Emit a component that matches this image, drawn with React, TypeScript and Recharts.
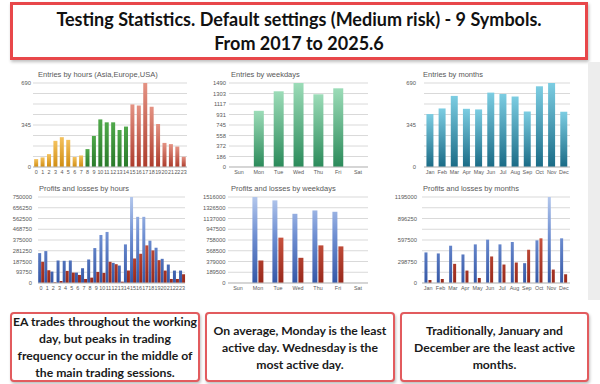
import React from 'react';
import { BarChart, Bar, XAxis, YAxis, CartesianGrid, Cell } from 'recharts';

// categories
const hours = ['0', '1', '2', '3', '4', '5', '6', '7', '8', '9', '10', '11', '12', '13', '14', '15', '16', '17', '18', '19', '20', '21', '22', '23'];
const weekdays = ['Sun', 'Mon', 'Tue', 'Wed', 'Thu', 'Fri', 'Sat'];
const months = ['Jan', 'Feb', 'Mar', 'Apr', 'May', 'Jun', 'Jul', 'Aug', 'Sep', 'Oct', 'Nov', 'Dec'];

// entries (number of trades)
const hourEntries = [65, 79, 106, 215, 245, 223, 82, 95, 147, 255, 391, 367, 367, 304, 332, 514, 505, 690, 495, 353, 198, 188, 168, 84];
const weekdayEntries = [0, 997, 1343, 1490, 1290, 1396, 0];
const monthEntries = [435, 481, 584, 478, 473, 611, 600, 579, 456, 663, 690, 454];

// profits / losses
const hourProfits = [260700, 278300, 99600, 196300, 193400, 196300, 90800, 128900, 205100, 304700, 418900, 445300, 175800, 152300, 336900, 750000, 577100, 577100, 369100, 307600, 210900, 161100, 108400, 108400];
const hourLosses = [184600, 111300, 5900, 17600, 105500, 90800, 70300, 35200, 46900, 96700, 87900, 184600, 164100, 11700, 108400, 213900, 254900, 328100, 284200, 199200, 108400, 35200, 35200, 76200];
const weekdayProfits = [0, 1516000, 1456800, 1219900, 1279100, 1255400, 0];
const weekdayLosses = [0, 396800, 799500, 444100, 663300, 645500, 0];
const monthProfits = [424800, 410800, 518100, 396800, 536800, 602200, 536800, 569500, 275400, 592800, 1195000, 620800];
const monthLosses = [42000, 56000, 266100, 172700, 70000, 368800, 256700, 284700, 462100, 620800, 186700, 121400];

// axis ticks (grid lines) and the ones that carry a label
const hourEntryTicks = [0, 86.25, 172.5, 258.75, 345, 431.25, 517.5, 603.75, 690];
const hourEntryLabels = [0, 345, 690];
const weekdayEntryTicks = [0, 186, 372, 558, 745, 931, 1117, 1303, 1490];
const monthEntryTicks = [0, 86.25, 172.5, 258.75, 345, 431.25, 517.5, 603.75, 690];
const monthEntryLabels = [0, 345, 690];
const hourPnlTicks = [0, 93750, 187500, 281250, 375000, 468750, 562500, 656250, 750000];
const weekdayPnlTicks = [0, 189500, 379000, 568500, 758000, 947500, 1137000, 1326500, 1516000];
const monthPnlTicks = [0, 149375, 298750, 448125, 597500, 746875, 896250, 1045625, 1195000];
const monthPnlLabels = [0, 298750, 597500, 896250, 1195000];

const hourEntryData = hours.map((name, i) => ({ name, entries: hourEntries[i] }));
const weekdayEntryData = weekdays.map((name, i) => ({ name, entries: weekdayEntries[i] }));
const monthEntryData = months.map((name, i) => ({ name, entries: monthEntries[i] }));
const hourPnlData = hours.map((name, i) => ({ name, profit: hourProfits[i], loss: hourLosses[i] }));
const weekdayPnlData = weekdays.map((name, i) => ({ name, profit: weekdayProfits[i], loss: weekdayLosses[i] }));
const monthPnlData = months.map((name, i) => ({ name, profit: monthProfits[i], loss: monthLosses[i] }));

// Asia 0-7, Europe 8-14, USA 15-23
const sessionFill = (i: number) => (i < 8 ? 'url(#gAsia)' : i < 15 ? 'url(#gEurope)' : 'url(#gUsa)');

const AXIS_FONT = '"Liberation Sans", Arial, sans-serif';
const LABEL = '#595959';

interface BarDef {
  key: string;
  fill: string;
  cellFill?: (i: number) => string;
}

interface PanelProps {
  left: number;
  top: number;
  title: string;
  titleX: number;
  data: Record<string, string | number>[];
  bars: BarDef[];
  ticks: number[];
  labels?: number[];
  yWidth: number;
  yGap: number;
  right: number;
  marginTop: number;
  marginBottom: number;
  categoryGap: string;
  barGap?: number;
}

function Panel(p: PanelProps) {
  const max = p.ticks[p.ticks.length - 1];
  return (
    <div style={{ position: 'absolute', left: p.left, top: p.top, width: 200, height: 120 }}>
      <div style={{
        position: 'absolute', left: p.titleX, top: p.marginTop - 13, fontFamily: AXIS_FONT,
        fontSize: 7.5, lineHeight: '9px', color: LABEL, whiteSpace: 'nowrap',
      }}>{p.title}</div>
      <BarChart width={200} height={120} data={p.data}
        margin={{ top: p.marginTop, right: p.right, left: 0, bottom: p.marginBottom }}
        barCategoryGap={p.categoryGap} barGap={p.barGap ?? 1}>
        <CartesianGrid stroke="#d9d9d9" vertical={false} />
        <XAxis dataKey="name" interval={0} height={12} tickLine={false} tickSize={0} tickMargin={3}
          axisLine={{ stroke: '#bfbfbf' }}
          tick={{ fontSize: 5.4, fill: LABEL, fontFamily: AXIS_FONT }} />
        <YAxis type="number" domain={[0, max]} ticks={p.ticks} interval={0} width={p.yWidth}
          axisLine={false} tickLine={false} tickSize={0} tickMargin={p.yGap}
          tickFormatter={(v: number) => (!p.labels || p.labels.includes(v) ? String(v) : '')}
          tick={{ fontSize: 5.8, fill: LABEL, fontFamily: AXIS_FONT }} />
        {p.bars.map(b => (
          <Bar key={b.key} dataKey={b.key} fill={b.fill} isAnimationActive={false}>
            {b.cellFill && p.data.map((_, i) => <Cell key={i} fill={b.cellFill!(i)} />)}
          </Bar>
        ))}
      </BarChart>
    </div>
  );
}

const boxStyle: React.CSSProperties = {
  position: 'absolute', top: 312, height: 70, boxSizing: 'border-box',
  border: '2px solid #e25b5e', borderRadius: 4, background: '#fff',
  boxShadow: '1px 2px 3px rgba(0,0,0,0.25)',
  display: 'flex', alignItems: 'center', justifyContent: 'center', textAlign: 'center',
  fontFamily: 'Lato, "Open Sans", sans-serif', fontWeight: 700, fontSize: 12.2, lineHeight: '17px', color: '#1a1a1a',
};

export default function App() {
  return (
    <div style={{ position: 'absolute', left: 0, top: 0, width: 600, height: 384, background: '#fff', overflow: 'hidden' }}>
      <svg width={0} height={0} style={{ position: 'absolute' }}>
        <defs>
          <linearGradient id="gAsia" x1="0" y1="0" x2="0" y2="1">
            <stop offset="0%" stopColor="#f4c25e" />
            <stop offset="100%" stopColor="#d08d12" />
          </linearGradient>
          <linearGradient id="gEurope" x1="0" y1="0" x2="0" y2="1">
            <stop offset="0%" stopColor="#4fa84a" />
            <stop offset="100%" stopColor="#2a7a2a" />
          </linearGradient>
          <linearGradient id="gUsa" x1="0" y1="0" x2="0" y2="1">
            <stop offset="0%" stopColor="#e49283" />
            <stop offset="100%" stopColor="#ad3c2c" />
          </linearGradient>
          <linearGradient id="gWeek" x1="0" y1="0" x2="0" y2="1">
            <stop offset="0%" stopColor="#9cdcb8" />
            <stop offset="100%" stopColor="#2b8a5a" />
          </linearGradient>
          <linearGradient id="gMonth" x1="0" y1="0" x2="0" y2="1">
            <stop offset="0%" stopColor="#7ccde2" />
            <stop offset="100%" stopColor="#1a6b86" />
          </linearGradient>
          {/* lower row shares the same plot band, so the shade follows the bar height */}
          <linearGradient id="gProfit" gradientUnits="userSpaceOnUse" x1="0" y1="17" x2="0" y2="103">
            <stop offset="0%" stopColor="#b3c7ec" />
            <stop offset="45%" stopColor="#6f8fd2" />
            <stop offset="100%" stopColor="#3457a6" />
          </linearGradient>
          <linearGradient id="gLoss" gradientUnits="userSpaceOnUse" x1="0" y1="17" x2="0" y2="103">
            <stop offset="0%" stopColor="#e08a7a" />
            <stop offset="45%" stopColor="#c9533f" />
            <stop offset="100%" stopColor="#98291b" />
          </linearGradient>
        </defs>
      </svg>

      <div style={{
        position: 'absolute', left: 10, top: 2, width: 578, height: 58, boxSizing: 'border-box',
        border: '3px solid #e8474a', background: '#fff', boxShadow: '1px 2px 3px rgba(0,0,0,0.25)',
        display: 'flex', alignItems: 'center', justifyContent: 'center', textAlign: 'center',
        fontFamily: 'Lato, "Open Sans", sans-serif', fontWeight: 700, fontSize: 18, lineHeight: '24px', color: '#111',
      }}>
        <div>Testing Statistics. Default settings (Medium risk) - 9 Symbols.<br />From 2017 to 2025.6</div>
      </div>

      <div style={{ position: 'absolute', left: 588, top: 62, width: 12, height: 238, background: '#ededed' }} />

      <Panel left={0} top={60} title="Entries by hours (Asia,Europe,USA)" titleX={38} data={hourEntryData}
        bars={[{ key: 'entries', fill: '#e0a030', cellFill: sessionFill }]}
        ticks={hourEntryTicks} labels={hourEntryLabels} yWidth={33} yGap={2} right={13}
        marginTop={23} marginBottom={1} categoryGap="18%" />
      <Panel left={200} top={60} title="Entries by weekdays" titleX={31} data={weekdayEntryData}
        bars={[{ key: 'entries', fill: 'url(#gWeek)' }]}
        ticks={weekdayEntryTicks} yWidth={29} yGap={3} right={32}
        marginTop={23} marginBottom={1} categoryGap="25%" />
      <Panel left={400} top={60} title="Entries by months" titleX={23} data={monthEntryData}
        bars={[{ key: 'entries', fill: 'url(#gMonth)' }]}
        ticks={monthEntryTicks} labels={monthEntryLabels} yWidth={24} yGap={8} right={30}
        marginTop={23} marginBottom={1} categoryGap="20%" />

      <Panel left={0} top={180} title="Profits and losses by hours" titleX={39} data={hourPnlData}
        bars={[{ key: 'profit', fill: 'url(#gProfit)' }, { key: 'loss', fill: 'url(#gLoss)' }]}
        ticks={hourPnlTicks} yWidth={38} yGap={6} right={15}
        marginTop={17} marginBottom={5} categoryGap="3%" barGap={0} />
      <Panel left={200} top={180} title="Profits and losses by weekdays" titleX={31} data={weekdayPnlData}
        bars={[{ key: 'profit', fill: 'url(#gProfit)' }, { key: 'loss', fill: 'url(#gLoss)' }]}
        ticks={weekdayPnlTicks} yWidth={28} yGap={2.5} right={32}
        marginTop={17} marginBottom={5} categoryGap="22%" barGap={1} />
      <Panel left={390} top={180} title="Profits and losses by months" titleX={33} data={monthPnlData}
        bars={[{ key: 'profit', fill: 'url(#gProfit)' }, { key: 'loss', fill: 'url(#gLoss)' }]}
        ticks={monthPnlTicks} labels={monthPnlLabels} yWidth={32} yGap={5} right={20}
        marginTop={17} marginBottom={5} categoryGap="20%" barGap={1} />

      <div style={{ ...boxStyle, left: 10, width: 190 }}>
        <div>EA trades throughout the working<br />day, but peaks in trading<br />frequency occur in the middle of<br />the main trading sessions.</div>
      </div>
      <div style={{ ...boxStyle, left: 205, width: 190 }}>
        <div>On average, Monday is the least<br />active day. Wednesday is the<br />most active day.</div>
      </div>
      <div style={{ ...boxStyle, left: 400, width: 189 }}>
        <div>Traditionally, January and<br />December are the least active<br />months.</div>
      </div>
    </div>
  );
}
